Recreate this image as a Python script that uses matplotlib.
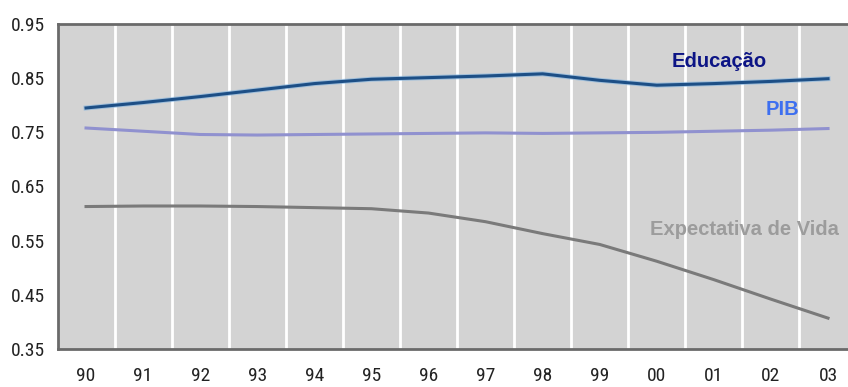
import numpy as np
import matplotlib.pyplot as plt
import matplotlib.patheffects as pe
from matplotlib import font_manager

years = ['90', '91', '92', '93', '94', '95', '96', '97', '98', '99', '00', '01', '02', '03']
educacao = [0.795, 0.805, 0.816, 0.828, 0.840, 0.848, 0.851, 0.854, 0.858, 0.846, 0.837, 0.840, 0.844, 0.849]
pib = [0.758, 0.752, 0.746, 0.745, 0.746, 0.747, 0.748, 0.749, 0.748, 0.749, 0.750, 0.752, 0.754, 0.757]
expectativa = [0.613, 0.614, 0.614, 0.613, 0.611, 0.609, 0.601, 0.585, 0.563, 0.543, 0.512, 0.478, 0.442, 0.407]
yticks = [0.35, 0.45, 0.55, 0.65, 0.75, 0.85, 0.95]


def main():
	names = {f.name for f in font_manager.fontManager.ttflist}
	narrow = [n for n in ['Liberation Sans Narrow', 'DejaVu Sans Condensed', 'Roboto Condensed'] if n in names]
	tick_family = narrow + ['DejaVu Sans']

	fig = plt.figure(figsize=(8.48, 3.87), dpi=100)
	ax = fig.add_axes([57.5 / 848, 1 - 349 / 387, (848 - 57.5) / 848, (349 - 24) / 387])
	ax.set_facecolor('#d3d3d3')

	x = np.arange(len(years))
	ax.set_xlim(-0.5, 13.35)
	ax.set_ylim(0.35, 0.95)

	# white separators between years
	for b in np.arange(0.5, 13.5, 1.0):
		ax.axvline(b, color='white', lw=2, zorder=1)

	ax.plot(x, educacao, color='#1d4f86', lw=2.2, zorder=3,
			path_effects=[pe.Stroke(linewidth=3.6, foreground='#7fb2e0', alpha=0.6), pe.Normal()])
	ax.plot(x, pib, color='#9091cf', lw=2.2, zorder=3)
	ax.plot(x, expectativa, color='#7a7a7a', lw=2.2, zorder=3)

	ax.text(11.1, 0.881, 'Educação', color='#0c1485', fontsize=14.5, fontweight='bold',
			ha='center', va='center', family='Liberation Sans')
	ax.text(12.2, 0.792, 'PIB', color='#3d6ff0', fontsize=14.5, fontweight='bold',
			ha='center', va='center', family='Liberation Sans')
	ax.text(11.54, 0.571, 'Expectativa de Vida', color='#9c9c9c', fontsize=14.5, fontweight='bold',
			ha='center', va='center', family='Liberation Sans')

	ax.set_xticks(x)
	ax.set_xticklabels(years)
	ax.set_yticks(yticks)
	ax.set_yticklabels(['%.2f' % v for v in yticks])
	ax.tick_params(length=0, labelsize=14)
	ax.tick_params(axis='y', pad=9)
	ax.tick_params(axis='x', pad=13)
	for lab in ax.get_xticklabels() + ax.get_yticklabels():
		lab.set_family(tick_family)
		lab.set_color('#222222')

	for side in ['left', 'bottom', 'top']:
		ax.spines[side].set_color('#6a6a6a')
		ax.spines[side].set_linewidth(2)
	ax.spines['right'].set_visible(False)

	fig.savefig('out.png', dpi=100)


if __name__ == "__main__":
	main()
